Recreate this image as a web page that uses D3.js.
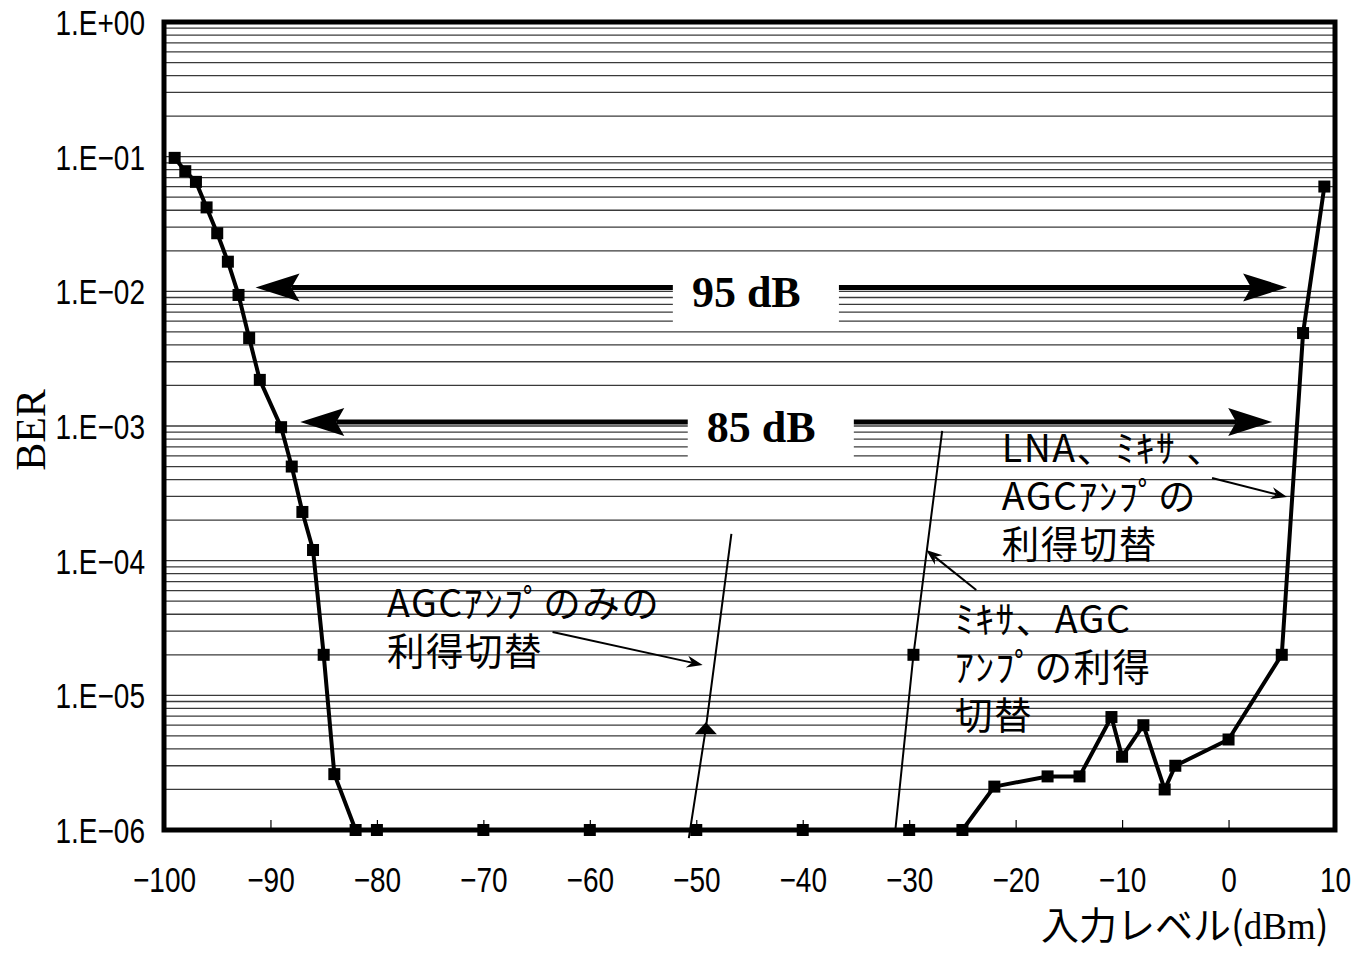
<!DOCTYPE html>
<html>
<head>
<meta charset="utf-8">
<script src="https://cdn.jsdelivr.net/npm/d3@7"></script>
<style>
  body { margin: 0; background: #fff; }
  .tick text { font-family: "Liberation Sans", Arial, sans-serif; font-size: 35px; fill: #000; }
  .jp { font-family: "Noto Sans CJK JP", sans-serif; font-size: 37.5px; letter-spacing: 1.5px; fill: #000; }
</style>
</head>
<body>
<div id="chart"></div>
<script>
// main curve (thick line, square markers)
var levels = [-99, -98, -97, -96, -95, -94, -93, -92, -91, -89, -88, -87, -86, -85, -84,
              -82, -80, -70, -60, -50, -40, -30, -25, -22, -17, -14, -11, -10, -8, -6, -5, 0, 5, 7, 9];
var ber = [0.098, 0.078, 0.065, 0.042, 0.027, 0.0166, 0.0094, 0.0045, 0.0022, 0.00098, 0.0005, 0.00023, 0.00012, 2.0e-5, 2.6e-6,
           1e-6, 1e-6, 1e-6, 1e-6, 1e-6, 1e-6, 1e-6, 1e-6, 2.1e-6, 2.5e-6, 2.5e-6, 6.9e-6, 3.5e-6, 6.0e-6, 2.0e-6, 3.0e-6, 4.7e-6, 2.0e-5, 4.9e-3, 0.06];

// AGC amp only switching (thin line, triangle marker on middle point)
var agcLevels = [-50.7, -49.1, -46.7];
var agcBer = [8.7e-7, 5.7e-6, 1.58e-4];

// mixer + AGC switching (thin line, square marker on middle point)
var mixLevels = [-31.3, -29.6, -26.9];
var mixBer = [1e-6, 2.0e-5, 9.2e-4];

var xTicks = [-100, -90, -80, -70, -60, -50, -40, -30, -20, -10, 0, 10];
var yTicks = [1, 1e-1, 1e-2, 1e-3, 1e-4, 1e-5, 1e-6];

var svgWidth = 1359, svgHeight = 963;
var margin = {top: 22, right: 24, bottom: 133, left: 164};
var width = svgWidth - margin.left - margin.right;
var height = svgHeight - margin.top - margin.bottom;

var svg = d3.select("#chart").append("svg")
  .attr("width", svgWidth)
  .attr("height", svgHeight);

var g = svg.append("g")
  .attr("transform", `translate(${margin.left}, ${margin.top})`);

var x = d3.scaleLinear().domain([-100, 10]).range([0, width]);
var y = d3.scaleLog().domain([1e-6, 1]).range([height, 0]);

// horizontal grid on every minor value
var gridVals = [];
for (var k = -6; k < 0; k++) {
  for (var m = 1; m < 10; m++) gridVals.push(m * Math.pow(10, k));
}
gridVals.push(1);
g.append("g").selectAll("line").data(gridVals).enter().append("line")
  .attr("x1", 0).attr("x2", width)
  .attr("y1", d => y(d)).attr("y2", d => y(d))
  .attr("stroke", "#3a3a3a").attr("stroke-width", 1.3);

// axes (labels squeezed horizontally like the condensed original font)
var fmt = function(d) {
  var e = Math.round(Math.log10(d));
  return "1.E" + (e >= 0 ? "+" : "\u2212") + String(Math.abs(e)).padStart(2, "0");
};
var yAxis = g.append("g").call(d3.axisLeft(y).tickValues(yTicks).tickFormat(fmt).tickSize(0));
yAxis.select(".domain").remove();
yAxis.selectAll("text").attr("x", 0).attr("dy", "0.36em")
  .attr("transform", "translate(-19,0) scale(0.8,1)");

var xAxis = g.append("g").attr("transform", `translate(0, ${height})`)
  .call(d3.axisBottom(x).tickValues(xTicks).tickFormat(d => d < 0 ? "\u2212" + Math.abs(d) : d).tickSizeInner(-10).tickSizeOuter(0));
xAxis.select(".domain").remove();
xAxis.selectAll("line").attr("stroke", "#000").attr("stroke-width", 1.2);
xAxis.selectAll("text").attr("y", 62).attr("dy", 0).attr("transform", "scale(0.8,1)");

// axis titles
svg.append("text")
  .attr("transform", "translate(45, 430) rotate(-90)")
  .attr("text-anchor", "middle")
  .attr("font-family", "'Liberation Serif', 'Times New Roman', serif")
  .attr("font-size", 42)
  .text("BER");

var xt = svg.append("text")
  .attr("x", 1041).attr("y", 939)
  .attr("font-family", "'Noto Sans CJK JP', sans-serif").attr("font-size", 38);
xt.append("tspan").text("入力レベル(");
xt.append("tspan").attr("font-family", "'Liberation Serif', 'Times New Roman', serif").attr("font-size", 37).text("dBm");
xt.append("tspan").text(")");

// range arrows
function bigArrow(x1, x2, yv) {
  var py = y(yv), a = x(x1), b = x(x2);
  var L = 44, W = 14, N = 36;
  g.append("line").attr("x1", a + N).attr("x2", b - N).attr("y1", py).attr("y2", py)
    .attr("stroke", "#000").attr("stroke-width", 5);
  g.append("path").attr("d", `M${a},${py} L${a + L},${py - W} L${a + N},${py} L${a + L},${py + W} Z`).attr("fill", "#000");
  g.append("path").attr("d", `M${b},${py} L${b - L},${py - W} L${b - N},${py} L${b - L},${py + W} Z`).attr("fill", "#000");
}
bigArrow(-91.4, 5.5, 1.07e-2);
bigArrow(-87.2, 4.1, 1.07e-3);

// label boxes
var boxes = [
  {x0: -52.2, x1: -36.6, y0: 1.86e-2, y1: 5.4e-3, cx: -45.3, by: 7.65e-3, t: "95 dB"},
  {x0: -50.8, x1: -35.2, y0: 1.88e-3, y1: 5.4e-4, cx: -43.9, by: 7.6e-4, t: "85 dB"}
];
boxes.forEach(function(b) {
  g.append("rect")
    .attr("x", x(b.x0)).attr("y", y(b.y0))
    .attr("width", x(b.x1) - x(b.x0)).attr("height", y(b.y1) - y(b.y0))
    .attr("fill", "#fff");
  g.append("text")
    .attr("x", x(b.cx)).attr("y", y(b.by))
    .attr("text-anchor", "middle")
    .attr("font-family", "'Liberation Serif', 'Times New Roman', serif")
    .attr("font-weight", "bold").attr("font-size", 44)
    .text(b.t);
});

// annotation texts
var notes = [
  {x: -79.05, y: 3.8e-5, lines: ["AGCｱﾝﾌﾟのみの", "利得切替"]},
  {x: -25.7, y: 2.9e-5, lines: ["ﾐｷｻ、AGC", "ｱﾝﾌﾟの利得", "切替"]},
  {x: -21.3, y: 5.4e-4, lines: ["LNA、ﾐｷｻ 、", "AGCｱﾝﾌﾟの", "利得切替"]}
];
notes.forEach(function(n) {
  var t = g.append("text").attr("class", "jp").attr("x", x(n.x)).attr("y", y(n.y));
  n.lines.forEach(function(s, i) {
    t.append("tspan").attr("x", x(n.x)).attr("dy", i === 0 ? 0 : 48).text(s);
  });
});

// thin pointer arrows
var pointers = [
  {from: [-63.5, 2.95e-5], to: [-49.4, 1.68e-5]},
  {from: [-23.7, 6.06e-5], to: [-28.4, 1.2e-4]},
  {from: [-1.55, 4.11e-4], to: [5.5, 2.97e-4]}
];
pointers.forEach(function(p) {
  var x1 = x(p.from[0]), y1 = y(p.from[1]), x2 = x(p.to[0]), y2 = y(p.to[1]);
  var ang = Math.atan2(y2 - y1, x2 - x1);
  var L = 16, W = 6, N = 11;
  var c = Math.cos(ang), s = Math.sin(ang);
  var bx = x2 - L * c, by = y2 - L * s;
  var nx = x2 - N * c, ny = y2 - N * s;
  g.append("line").attr("x1", x1).attr("y1", y1).attr("x2", nx).attr("y2", ny)
    .attr("stroke", "#000").attr("stroke-width", 2);
  g.append("path")
    .attr("d", `M${x2},${y2} L${bx - W * s},${by + W * c} L${nx},${ny} L${bx + W * s},${by - W * c} Z`)
    .attr("fill", "#000");
});

// frame
g.append("rect").attr("width", width).attr("height", height)
  .attr("fill", "none").attr("stroke", "#000").attr("stroke-width", 5);

// series
var line = d3.line().x(d => x(d[0])).y(d => y(d[1]));

var agcData = d3.zip(agcLevels, agcBer);
g.append("path").datum(agcData).attr("d", line)
  .attr("fill", "none").attr("stroke", "#000").attr("stroke-width", 2);
g.append("path")
  .attr("transform", `translate(${x(agcData[1][0])}, ${y(agcData[1][1])})`)
  .attr("d", "M0,-6 L11,6 L-11,6 Z").attr("fill", "#000");

var mixData = d3.zip(mixLevels, mixBer);
g.append("path").datum(mixData).attr("d", line)
  .attr("fill", "none").attr("stroke", "#000").attr("stroke-width", 2);
g.append("rect")
  .attr("x", x(mixData[1][0]) - 6).attr("y", y(mixData[1][1]) - 6)
  .attr("width", 12).attr("height", 12).attr("fill", "#000");

var mainData = d3.zip(levels, ber);
g.append("path").datum(mainData).attr("d", line)
  .attr("fill", "none").attr("stroke", "#000").attr("stroke-width", 4).attr("stroke-linejoin", "round");
g.append("g").selectAll("rect").data(mainData).enter().append("rect")
  .attr("x", d => x(d[0]) - 6).attr("y", d => y(d[1]) - 6)
  .attr("width", 12).attr("height", 12).attr("fill", "#000");
</script>
</body>
</html>
